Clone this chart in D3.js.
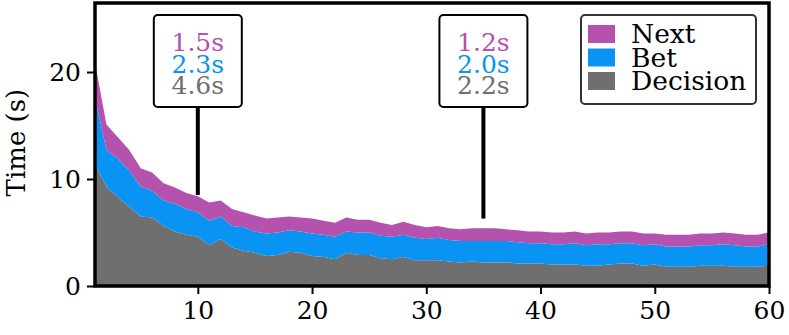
<!DOCTYPE html>
<html>
<head>
<meta charset="utf-8">
<script src="https://cdn.jsdelivr.net/npm/d3@7"></script>
<style>
  body { margin: 0; background: #fff; }
  text { font-family: "DejaVu Serif", serif; }
</style>
</head>
<body>
<script>
// data
var rounds = d3.range(1, 61);
var decision = [11.3, 9.3, 8.3, 7.4, 6.5, 6.4, 5.6, 5.1, 4.8, 4.6,
                3.8, 4.4, 3.6, 3.3, 3.1, 2.8, 2.9, 3.2, 3.1, 2.8,
                2.7, 2.5, 3.1, 2.9, 2.9, 2.6, 2.5, 2.7, 2.4, 2.4,
                2.4, 2.3, 2.2, 2.3, 2.2, 2.2, 2.2, 2.1, 2.1, 2.1,
                2.0, 2.0, 2.0, 1.9, 1.9, 2.0, 2.1, 2.1, 1.9, 2.0,
                1.8, 1.8, 1.8, 1.9, 1.9, 1.9, 1.8, 1.8, 1.8, 1.9];
var bet = [6.3, 3.4, 3.6, 3.4, 2.8, 2.5, 2.4, 2.6, 2.4, 2.3,
           2.3, 2.1, 2.0, 2.2, 2.0, 2.1, 2.1, 2.0, 2.0, 2.1,
           2.1, 2.1, 2.0, 2.1, 2.1, 2.1, 2.1, 2.1, 2.1, 2.0,
           2.1, 2.0, 2.0, 1.9, 2.0, 2.0, 2.0, 2.0, 1.9, 1.9,
           1.9, 1.9, 2.0, 1.9, 2.0, 1.9, 1.9, 1.9, 1.9, 1.9,
           1.9, 1.9, 1.9, 1.9, 1.9, 2.0, 2.0, 1.9, 1.9, 2.0];
var next = [3.3, 2.4, 2.0, 1.9, 1.7, 1.7, 1.6, 1.5, 1.5, 1.5,
            1.7, 1.5, 1.6, 1.4, 1.5, 1.4, 1.4, 1.3, 1.3, 1.4,
            1.3, 1.3, 1.3, 1.2, 1.2, 1.2, 1.1, 1.2, 1.2, 1.1,
            1.1, 1.1, 1.1, 1.2, 1.2, 1.2, 1.1, 1.1, 1.1, 1.1,
            1.1, 1.1, 1.1, 1.1, 1.1, 1.1, 1.1, 1.1, 1.1, 1.0,
            1.1, 1.1, 1.1, 1.1, 1.1, 1.1, 1.1, 1.1, 1.1, 1.1];
var keys = ['Decision', 'Bet', 'Next'];
var xTicks = [10, 20, 30, 40, 50, 60];
var yTicks = [0, 10, 20];

// callouts
var notes = [
  { x: 10, tip: 8.5, labels: ['1.5s', '2.3s', '4.6s'] },
  { x: 35, tip: 6.3, labels: ['1.2s', '2.0s', '2.2s'] }
];

var color = { Decision: '#6f6f6f', Bet: '#0994f4', Next: '#b452ae' };

var W = 789, H = 335;
var m = { top: 3, right: 20, bottom: 49, left: 95 };

var rows = rounds.map(function(r, i){
  return { round: r, Decision: decision[i], Bet: bet[i], Next: next[i] };
});

var x = d3.scaleLinear().domain([1, 60]).range([m.left, W - m.right]);
var y = d3.scaleLinear().domain([0, 26.45]).range([H - m.bottom, m.top]);

var svg = d3.select('body').append('svg')
  .attr('width', W)
  .attr('height', H);

var series = d3.stack().keys(keys)(rows);

var area = d3.area()
  .x(function(d){ return x(d.data.round); })
  .y0(function(d){ return y(d[0]); })
  .y1(function(d){ return y(d[1]); });

svg.append('g')
  .selectAll('path')
  .data(series)
  .enter()
    .append('path')
      .attr('d', area)
      .attr('fill', function(d){ return color[d.key]; });

// axes
var xAxis = svg.append('g')
  .attr('transform', 'translate(0,' + (H - m.bottom) + ')')
  .call(d3.axisBottom(x).tickValues(xTicks).tickSize(8).tickPadding(7));

var yAxis = svg.append('g')
  .attr('transform', 'translate(' + m.left + ',0)')
  .call(d3.axisLeft(y).tickValues(yTicks).tickSize(8).tickPadding(6));

[xAxis, yAxis].forEach(function(g){
  g.select('.domain').remove();
  g.selectAll('.tick line').attr('stroke', '#000').attr('stroke-width', 2);
  g.selectAll('.tick text')
    .attr('font-size', 25)
    .attr('font-family', 'DejaVu Serif')
    .attr('fill', '#000');
});

svg.append('text')
  .attr('transform', 'translate(25,' + y(13.4) + ') rotate(-90)')
  .attr('text-anchor', 'middle')
  .attr('font-size', 26)
  .text('Time (s)');

// frame
svg.append('rect')
  .attr('x', m.left)
  .attr('y', m.top)
  .attr('width', W - m.left - m.right)
  .attr('height', H - m.top - m.bottom)
  .attr('fill', 'none')
  .attr('stroke', '#000')
  .attr('stroke-width', 3.5);

// callouts
var labelColor = [color.Next, color.Bet, color.Decision];
var note = svg.selectAll('g.note')
  .data(notes)
  .enter()
    .append('g')
      .attr('class', 'note');

note.append('line')
  .attr('x1', function(d){ return x(d.x); })
  .attr('x2', function(d){ return x(d.x); })
  .attr('y1', 107)
  .attr('y2', function(d){ return y(d.tip); })
  .attr('stroke', '#000')
  .attr('stroke-width', 4);

note.append('rect')
  .attr('x', function(d){ return x(d.x) - 44; })
  .attr('y', 15)
  .attr('width', 88)
  .attr('height', 92)
  .attr('rx', 4)
  .attr('fill', '#fff')
  .attr('stroke', '#000')
  .attr('stroke-width', 2);

note.each(function(d){
  d3.select(this).selectAll('text')
    .data(d.labels)
    .enter()
      .append('text')
        .attr('x', x(d.x))
        .attr('y', function(t, i){ return 51 + i * 21.5; })
        .attr('text-anchor', 'middle')
        .attr('font-size', 25)
        .attr('fill', function(t, i){ return labelColor[i]; })
        .text(function(t){ return t; });
});

// legend
var legend = svg.append('g').attr('class', 'legend');
legend.append('rect')
  .attr('x', 581)
  .attr('y', 15)
  .attr('width', 175)
  .attr('height', 89)
  .attr('rx', 4)
  .attr('fill', '#fff')
  .attr('stroke', '#333')
  .attr('stroke-width', 2);

var entries = legend.selectAll('g.entry')
  .data(keys.slice().reverse())
  .enter()
    .append('g')
      .attr('class', 'entry')
      .attr('transform', function(d, i){ return 'translate(588,' + (25 + i * 23.5) + ')'; });

entries.append('rect')
  .attr('width', 27)
  .attr('height', 18)
  .attr('fill', function(d){ return color[d]; });

entries.append('text')
  .attr('x', 43)
  .attr('y', 18)
  .attr('font-size', 26.5)
  .text(function(d){ return d; });
</script>
</body>
</html>
